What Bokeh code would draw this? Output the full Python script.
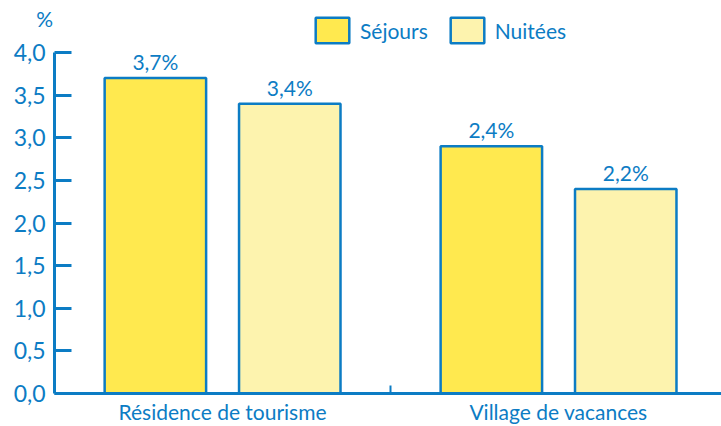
import numpy as np
from bokeh.plotting import figure
from bokeh.models import (ColumnDataSource, FixedTicker, CustomJSTickFormatter, Range1d,
                          Legend, LegendItem, Label)
from bokeh.transform import dodge
from bokeh.core.properties import value
from bokeh.embed import file_html
from bokeh.resources import INLINE

categories = ["Résidence de tourisme", "Village de vacances"]
sejours = [3.7, 2.9]
nuitees = [3.4, 2.4]
sejours_labels = ["3,7%", "2,4%"]
nuitees_labels = ["3,4%", "2,2%"]
y_ticks = [0.0, 0.5, 1.0, 1.5, 2.0, 2.5, 3.0, 3.5, 4.0]

BLUE = "#0c7cc4"
YELLOW = "#ffe94f"
PALE = "#fdf3ae"
FONT = "Lato"

xpos = np.arange(len(categories)) + 0.5
src = ColumnDataSource(dict(x=xpos, cat=categories, s=sejours, n=nuitees,
                            sl=sejours_labels, nl=nuitees_labels))

p = figure(width=721, height=426, output_backend="svg", toolbar_location=None,
           x_range=Range1d(-0.161, 1.985), y_range=Range1d(-0.387, 4.61),
           min_border_left=0, min_border_right=0, min_border_top=0, min_border_bottom=0)
p.outline_line_color = None
p.grid.grid_line_color = None
p.background_fill_color = None
p.border_fill_color = "white"

r1 = p.vbar(x=dodge("x", -0.2), top="s", width=0.302, source=src,
            fill_color=YELLOW, line_color=BLUE, line_width=2.5)
r2 = p.vbar(x=dodge("x", 0.2), top="n", width=0.302, source=src,
            fill_color=PALE, line_color=BLUE, line_width=2.5)
p.text(x=dodge("x", -0.2), y="s", text="sl", source=src, y_offset=-4,
       text_align="center", text_baseline="bottom", text_color=BLUE,
       text_font=value(FONT), text_font_size="21px")
p.text(x=dodge("x", 0.2), y="n", text="nl", source=src, y_offset=-4,
       text_align="center", text_baseline="bottom", text_color=BLUE,
       text_font=value(FONT), text_font_size="21px")

# y axis, pinned at x = 0 inside the frame
ya = p.yaxis[0]
ya.fixed_location = 0
ya.bounds = (y_ticks[0], y_ticks[-1])
ya.ticker = FixedTicker(ticks=y_ticks)
ya.formatter = CustomJSTickFormatter(code="return tick.toFixed(1).replace('.', ',');")
ya.axis_line_color = BLUE
ya.axis_line_width = 3
ya.major_tick_line_color = BLUE
ya.major_tick_line_width = 3
ya.major_tick_in = 17
ya.major_tick_out = 0
ya.minor_tick_line_color = None
ya.major_label_text_color = BLUE
ya.major_label_text_font = FONT
ya.major_label_text_font_size = "23px"
ya.major_label_standoff = 9

# x axis, pinned at y = 0 inside the frame
xa = p.xaxis[0]
xa.fixed_location = 0
xa.bounds = (0, len(categories))
xa.ticker = FixedTicker(ticks=list(xpos), minor_ticks=[1.0])
xa.major_label_overrides = {float(xv): c for xv, c in zip(xpos, categories)}
xa.axis_line_color = BLUE
xa.axis_line_width = 3
xa.major_tick_line_color = None
xa.major_tick_in = 0
xa.major_tick_out = 0
xa.minor_tick_line_color = BLUE
xa.minor_tick_line_width = 2
xa.minor_tick_in = 8
xa.minor_tick_out = 0
xa.major_label_text_color = BLUE
xa.major_label_text_font = FONT
xa.major_label_text_font_size = "21px"
xa.major_label_standoff = 5

legend = Legend(items=[LegendItem(label="Séjours", renderers=[r1]),
                       LegendItem(label="Nuitées", renderers=[r2])],
                orientation="horizontal", location=(311, 380),
                glyph_width=42, glyph_height=32, label_standoff=7, spacing=18,
                padding=0, margin=0, border_line_color=None,
                background_fill_alpha=0,
                label_text_color=BLUE, label_text_font=FONT, label_text_font_size="21px")
p.add_layout(legend, "center")

p.add_layout(Label(x=0, y=y_ticks[-1], text="%", x_offset=-10, y_offset=22, text_align="center",
                   text_baseline="bottom",
                   text_color=BLUE, text_font=FONT, text_font_size="21px"))

open("out.html", "w").write(file_html(p, INLINE))
